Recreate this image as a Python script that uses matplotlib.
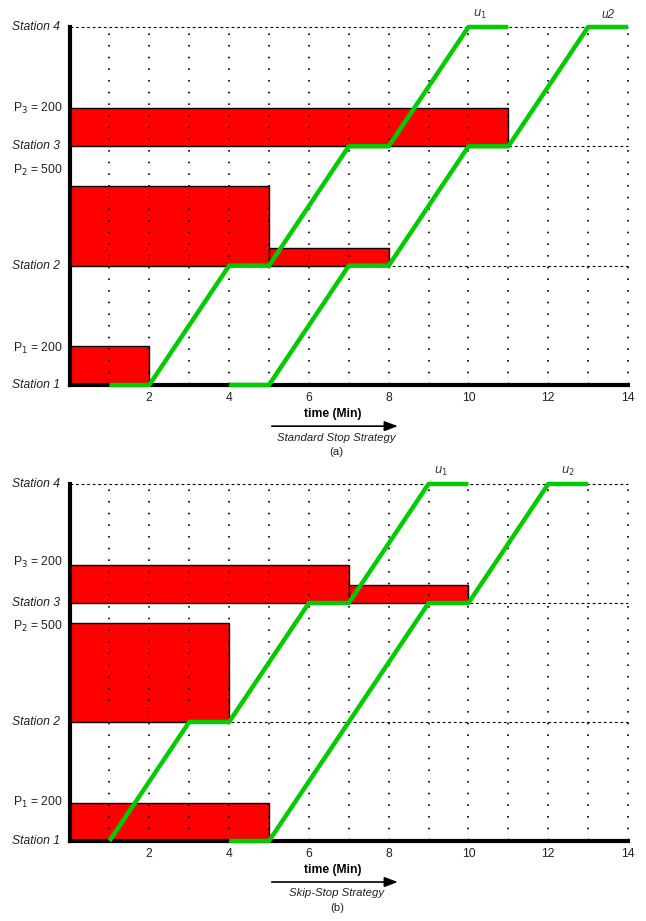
import matplotlib.pyplot as plt
from matplotlib.transforms import blended_transform_factory

plt.rcParams['font.family'] = ['Liberation Sans', 'DejaVu Sans']

# station levels (y) and labels
stations = [0, 1, 2, 3]
station_labels = ['Station 1', 'Station 2', 'Station 3', 'Station 4']
xticks = [2, 4, 6, 8, 10, 12, 14]

# passenger bars: (t_start, t_end, base station, height)
bars_a = [(0, 2, 0, 0.33), (0, 5, 1, 0.67), (5, 8, 1, 0.15), (0, 11, 2, 0.32)]
bars_b = [(0, 5, 0, 0.32), (0, 4, 1, 0.83), (0, 7, 2, 0.32), (7, 10, 2, 0.15)]

# P labels: (text, y)
plabels_a = [(r'P$_1$ = 200', 0.31), (r'P$_2$ = 500', 1.80), (r'P$_3$ = 200', 2.32)]
plabels_b = [(r'P$_1$ = 200', 0.32), (r'P$_2$ = 500', 1.80), (r'P$_3$ = 200', 2.34)]

# train trajectories
u1_a_t = [1, 2, 4, 5, 7, 8, 10, 11]
u1_a_s = [0, 0, 1, 1, 2, 2, 3, 3]
u2_a_t = [4, 5, 7, 8, 10, 11, 13, 14]
u2_a_s = [0, 0, 1, 1, 2, 2, 3, 3]

u1_b_t = [1, 3, 4, 6, 7, 9, 10]
u1_b_s = [0, 1, 1, 2, 2, 3, 3]
u2_b_t = [4, 5, 9, 10, 12, 13]
u2_b_s = [0, 0, 2, 2, 3, 3]

ulabels_a = [(r'$u_1$', 10.3), ('u2', 13.5)]
ulabels_b = [(r'$u_1$', 9.3), (r'$u_2$', 12.5)]

GREEN = '#00cc00'

fig = plt.figure(figsize=(6.46, 9.21), dpi=100)
ax_a = fig.add_axes([0.1076, 0.582, 0.8646, 0.3887])
ax_b = fig.add_axes([0.1076, 0.0869, 0.8646, 0.3876])


def draw(ax, bars, plabels, u1, u2, ulabels, strategy, tag):
    ax.set_xlim(0, 14)
    ax.set_ylim(0, 3)
    for t0, t1, base, h in bars:
        ax.bar(t0, h, width=t1 - t0, bottom=base, align='edge',
               color='#ff0000', edgecolor='black', linewidth=1, zorder=2)
    for t in range(1, 15):
        ax.plot([t, t], [0, 3], color='black', linestyle=(0, (1, 6)),
                linewidth=1.2, zorder=3, clip_on=False)
    for s in stations[1:]:
        ax.plot([0, 14], [s, s], color='black', linestyle=(0, (2.5, 2.5)),
                linewidth=0.8, zorder=1, clip_on=False)
    ax.plot(u1[0], u1[1], color=GREEN, linewidth=3.2, zorder=5,
            solid_capstyle='butt', clip_on=False)
    ax.plot(u2[0], u2[1], color=GREEN, linewidth=3.2, zorder=5,
            solid_capstyle='butt', clip_on=False)
    for txt, x in ulabels:
        ax.text(x, 3.05, txt, fontsize=8.5, style='italic', color='#333333',
                ha='center', va='bottom')

    for s, lab in zip(stations, station_labels):
        ax.text(-0.25, s, lab, fontsize=8.7, style='italic', color='#222222',
                ha='right', va='center')
    for txt, y in plabels:
        ax.text(-0.18, y, txt, fontsize=8.7, color='#222222',
                ha='right', va='center')

    for side in ['top', 'right']:
        ax.spines[side].set_visible(False)
    ax.spines['left'].set_linewidth(3)
    ax.spines['bottom'].set_linewidth(3)
    ax.set_yticks([])
    ax.set_xticks(xticks)
    ax.set_xticks(range(1, 15), minor=True)
    ax.tick_params(axis='x', which='both', direction='in', length=2,
                   width=0.8, labelsize=8.7, pad=5, colors='black')
    ax.tick_params(axis='x', labelcolor='#222222')

    tr = blended_transform_factory(ax.transData, ax.transAxes)
    ax.text(6.6, -0.08, 'time (Min)', transform=tr, fontsize=8.7,
            fontweight='bold', ha='center', va='center')
    ax.annotate('', xy=(8.3, -0.115), xytext=(5, -0.115),
                xycoords=tr, textcoords=tr,
                arrowprops=dict(arrowstyle='-|>,head_length=0.8,head_width=0.3',
                                color='black', linewidth=1.2))
    ax.text(6.7, -0.147, strategy, transform=tr, fontsize=8.2,
            style='italic', ha='center', va='center', color='#222222')
    ax.text(6.7, -0.188, tag, transform=tr, fontsize=8.2,
            ha='center', va='center', color='#222222')


draw(ax_a, bars_a, plabels_a, (u1_a_t, u1_a_s), (u2_a_t, u2_a_s), ulabels_a,
     'Standard Stop Strategy', '(a)')
draw(ax_b, bars_b, plabels_b, (u1_b_t, u1_b_s), (u2_b_t, u2_b_s), ulabels_b,
     'Skip-Stop Strategy', '(b)')

fig.savefig('out.png', dpi=100)
